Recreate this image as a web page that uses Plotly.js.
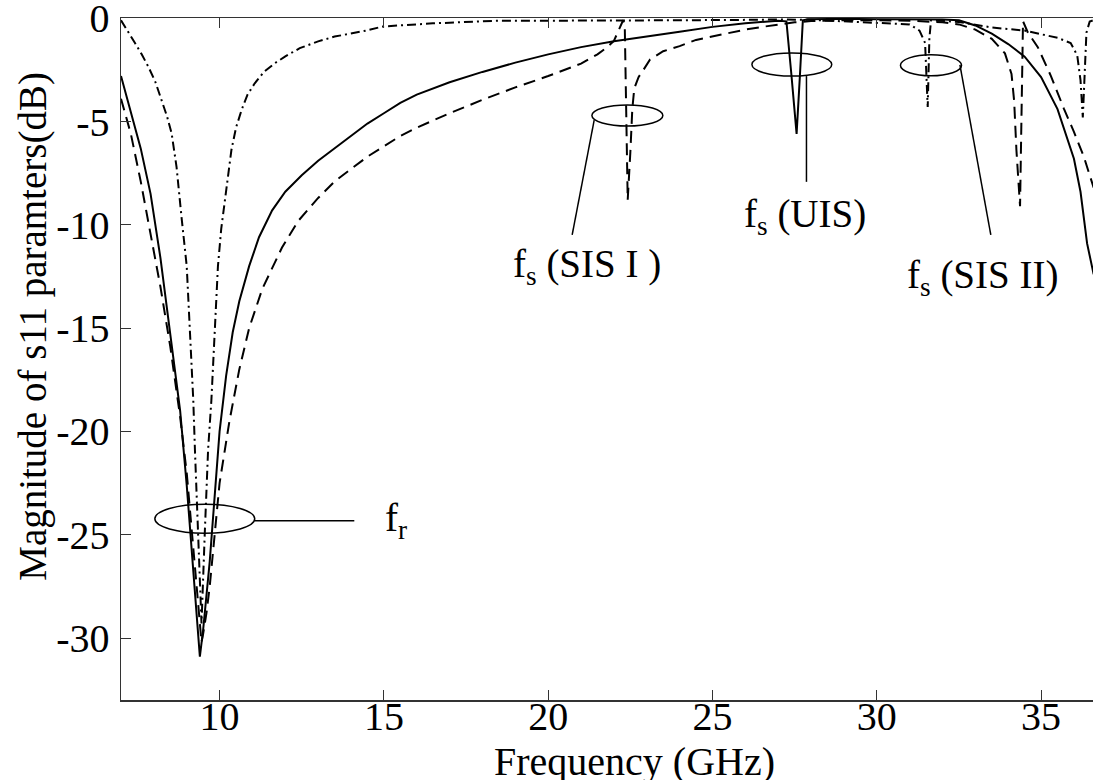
<!DOCTYPE html>
<html>
<head>
<meta charset="utf-8">
<script src="https://cdn.plot.ly/plotly-3.0.1.min.js"></script>
<style>html,body{margin:0;padding:0;background:#fff;overflow:hidden;}#chart{width:1093px;height:783px;}</style>
</head>
<body>
<div id="chart"></div>
<script>
// Frequency (GHz) and |S11| (dB) for each curve
const solidX = [7.0,7.3,7.6,7.9,8.2,8.5,8.8,9.0,9.15,9.25,9.35,9.4,9.5,9.6,9.7,9.8,9.9,10.0,10.2,10.4,10.6,10.9,11.2,11.6,12.0,12.5,13.0,13.5,14.0,14.5,15.0,15.5,16.0,17.0,18.0,19.0,20.0,21.0,22.0,23.0,24.0,25.0,26.0,27.0,27.25,27.4,27.56,27.66,27.75,27.9,29.0,30.0,31.0,32.0,32.5,33.0,33.5,34.0,34.5,35.0,35.5,36.0,36.2,36.4,36.6];
const solidY = [-2.8,-4.5,-6.3,-8.5,-11.6,-15.3,-19.0,-22.6,-25.8,-27.6,-29.6,-30.9,-29.6,-28.0,-26.3,-24.2,-22.2,-20.0,-17.3,-15.2,-13.7,-12.0,-10.6,-9.3,-8.4,-7.6,-6.9,-6.3,-5.7,-5.1,-4.6,-4.1,-3.7,-3.1,-2.6,-2.15,-1.75,-1.4,-1.12,-0.9,-0.65,-0.42,-0.25,-0.12,-0.15,-2.7,-5.6,-2.8,-0.1,-0.05,-0.03,-0.05,-0.05,-0.06,-0.1,-0.35,-0.75,-1.25,-1.86,-2.85,-4.4,-6.8,-8.4,-10.9,-12.4];

const dashX = [7.0,7.3,7.6,7.9,8.2,8.5,8.8,9.0,9.2,9.35,9.45,9.5,9.6,9.7,9.85,10.0,10.15,10.3,10.6,10.9,11.3,11.9,12.4,13.0,13.5,14.0,14.5,15.0,15.5,16.0,17.0,18.0,19.0,20.0,20.5,21.0,21.5,21.8,22.0,22.15,22.28,22.33,22.38,22.42,22.5,22.56,22.62,22.75,22.9,23.1,23.5,24.0,24.5,25.0,25.6,26.0,26.6,27.0,27.5,28.0,29.0,30.0,31.0,32.0,32.5,33.0,33.5,33.9,34.1,34.18,34.25,34.36,34.42,34.45,34.6,34.9,35.3,35.7,36.0,36.3,36.6];
const dashY = [-3.9,-5.6,-7.9,-10.4,-13.0,-15.9,-19.3,-22.0,-25.5,-28.5,-30.2,-29.8,-28.8,-27.5,-25.0,-22.5,-21.0,-19.5,-17.0,-15.0,-13.1,-11.1,-9.8,-8.7,-7.9,-7.3,-6.7,-6.2,-5.7,-5.3,-4.6,-3.95,-3.35,-2.8,-2.5,-2.2,-1.75,-1.4,-1.1,-0.6,-0.1,-0.3,-6.0,-8.8,-6.5,-4.4,-3.4,-2.85,-2.5,-2.0,-1.6,-1.35,-1.05,-0.88,-0.7,-0.55,-0.4,-0.3,-0.2,-0.14,-0.1,-0.1,-0.12,-0.2,-0.3,-0.55,-1.0,-1.7,-2.7,-4.0,-6.4,-9.1,-4.0,-0.15,-0.7,-1.4,-2.8,-4.4,-5.5,-6.7,-8.2];

const dashDotX = [7.0,7.2,7.43,7.63,7.83,8.05,8.24,8.4,8.54,8.69,8.84,9.0,9.1,9.2,9.25,9.35,9.45,9.55,9.65,9.75,9.85,9.95,10.05,10.16,10.36,10.5,10.67,10.85,11.07,11.35,11.68,12.0,12.44,13.0,13.5,14.46,14.97,16.49,18.5,20.0,22.0,24.0,26.0,27.0,28.0,29.0,30.0,31.0,31.3,31.47,31.55,31.6,31.65,32.0,32.5,33.5,34.5,35.5,35.9,36.1,36.2,36.27,36.33,36.38,36.48,36.6];
const dashDotY = [-0.1,-0.6,-1.21,-1.75,-2.34,-3.1,-3.96,-4.75,-5.57,-7.19,-9.6,-12.0,-15.25,-18.5,-20.9,-24.9,-29.3,-24.9,-20.9,-18.5,-15.25,-12.0,-10.2,-8.8,-6.38,-5.3,-4.44,-3.7,-3.15,-2.6,-2.18,-1.85,-1.45,-1.12,-0.89,-0.6,-0.4,-0.25,-0.12,-0.12,-0.12,-0.1,-0.08,-0.06,-0.08,-0.15,-0.22,-0.3,-0.6,-1.2,-4.3,-1.0,-0.1,-0.12,-0.18,-0.45,-0.6,-0.95,-1.2,-1.8,-3.0,-4.8,-2.3,-0.7,-0.16,-0.1];

const xTickVals = [10,15,20,25,30,35];
const xTickText = ['10','15','20','25','30','35'];
const yTickVals = [0,-5,-10,-15,-20,-25,-30];
const yTickText = ['0','-5','-10','-15','-20','-25','-30'];

const labelTexts = ['f<sub>r</sub>','f<sub>s</sub> (SIS I )','f<sub>s</sub> (UIS)','f<sub>s</sub> (SIS II)'];
const xTitle = 'Frequency (GHz)';
const yTitle = 'Magnitude of s11 paramters(dB)';

const FONT = 'Liberation Serif';
const black = '#000';

const traces = [
  {x: solidX, y: solidY, mode: 'lines', line: {color: black, width: 2}, hoverinfo: 'skip'},
  {x: dashX, y: dashY, mode: 'lines', line: {color: black, width: 2, dash: '12px,7px'}, hoverinfo: 'skip'},
  {x: dashDotX, y: dashDotY, mode: 'lines', line: {color: black, width: 2, dash: '9px,4px,2px,4px'}, hoverinfo: 'skip'}
];

const axCommon = {
  showgrid: false, zeroline: false, showline: true, linecolor: '#333', linewidth: 1.5,
  ticks: 'inside', ticklen: 10, tickwidth: 1, tickcolor: '#333',
  ticklabeloverflow: 'allow',
  tickfont: {family: FONT, size: 40, color: black}
};

const shp = (o) => Object.assign({xref: 'x', yref: 'y', line: {color: black, width: 1.5}}, o);
const ann = (o) => Object.assign({showarrow: false, xanchor: 'left', yanchor: 'middle', font: {family: FONT, size: 39, color: black}}, o);

const layout = {
  width: 1093, height: 783,
  margin: {l: 121, r: 0, t: 18, b: 83},
  paper_bgcolor: '#fff', plot_bgcolor: '#fff',
  showlegend: false,
  xaxis: Object.assign({}, axCommon, {range: [7, 36.58], tickvals: xTickVals, ticktext: xTickText, mirror: 'ticks', ticklabelstandoff: -20}),
  yaxis: Object.assign({}, axCommon, {range: [-33, 0.01], tickvals: yTickVals, ticktext: yTickText, mirror: false, ticklabelstandoff: 2}),
  shapes: [
    shp({type: 'circle', x0: 8.03, x1: 11.07, y0: -23.53, y1: -24.93}),
    shp({type: 'line', x0: 11.07, x1: 14.1, y0: -24.33, y1: -24.33}),
    shp({type: 'circle', x0: 21.33, x1: 23.49, y0: -4.2, y1: -5.22}),
    shp({type: 'line', x0: 21.4, x1: 20.73, y0: -4.93, y1: -10.49}),
    shp({type: 'circle', x0: 26.2, x1: 28.63, y0: -1.68, y1: -2.8}),
    shp({type: 'line', x0: 27.86, x1: 27.86, y0: -2.8, y1: -7.92}),
    shp({type: 'circle', x0: 30.72, x1: 32.58, y0: -1.77, y1: -2.79}),
    shp({type: 'line', x0: 32.53, x1: 33.47, y0: -2.26, y1: -10.49})
  ],
  annotations: [
    ann({x: 14.96, y: -24.3, text: labelTexts[0]}),
    ann({x: 18.87, y: -12.0, text: labelTexts[1]}),
    ann({x: 25.89, y: -9.6, text: labelTexts[2]}),
    ann({x: 30.87, y: -12.55, text: labelTexts[3]}),
    ann({xref: 'paper', yref: 'paper', x: 0.528, y: -0.0894, height: 38, xanchor: 'center', text: xTitle, font: {family: FONT, size: 40, color: black}}),
    ann({xref: 'paper', yref: 'paper', x: -0.09, y: 0.548, xanchor: 'center', textangle: -90, text: yTitle, font: {family: FONT, size: 39, color: black}})
  ]
};

Plotly.newPlot('chart', traces, layout, {displayModeBar: false, staticPlot: true});
</script>
</body>
</html>
